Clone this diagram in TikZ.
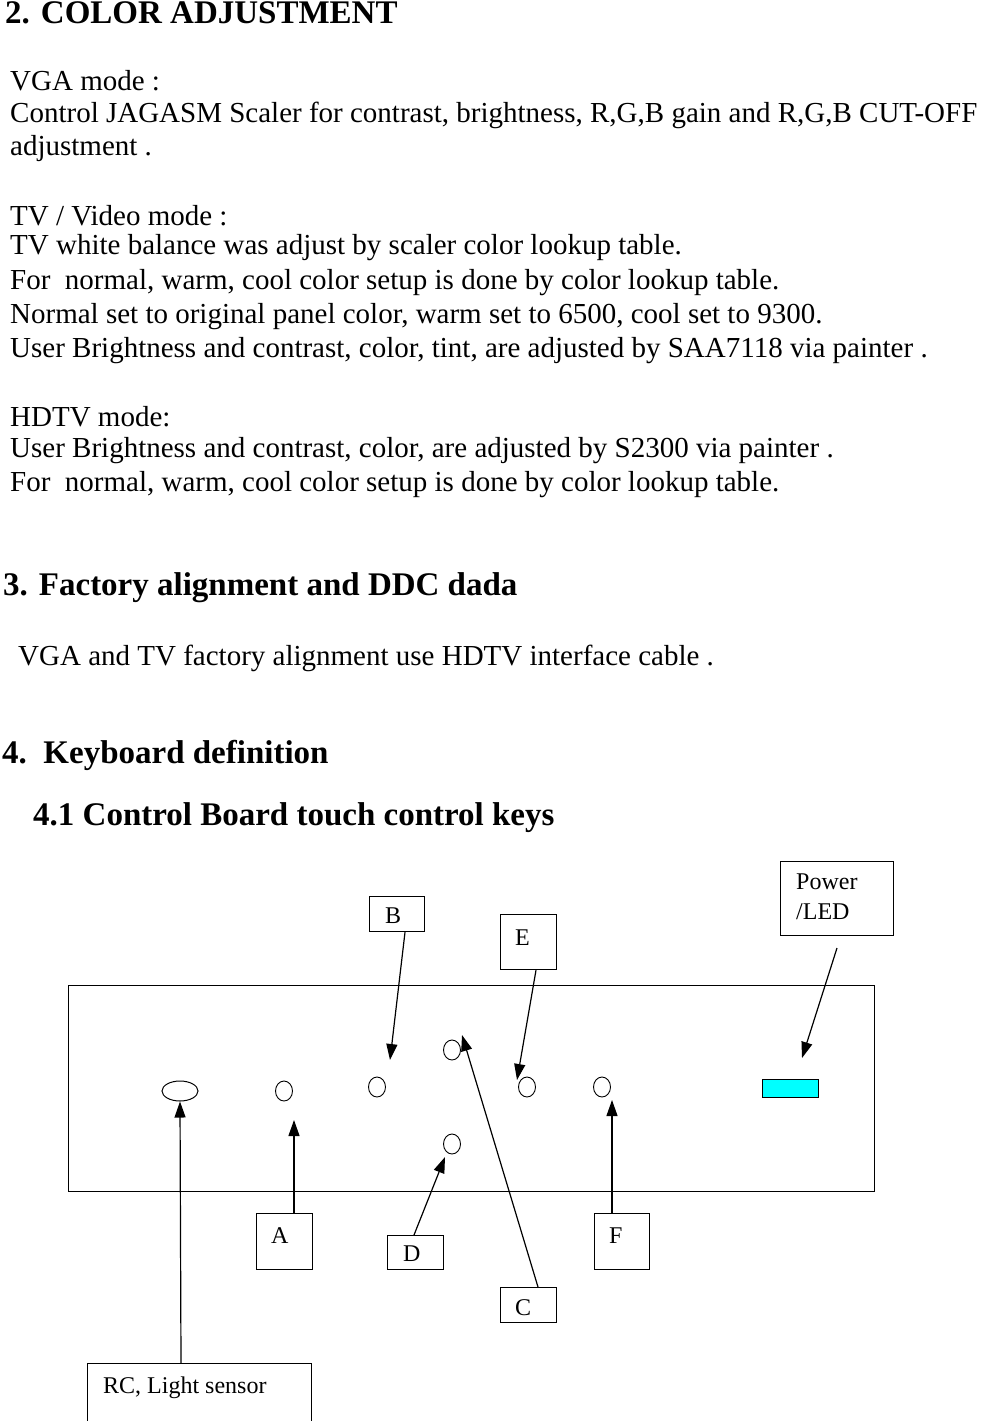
\documentclass[tikz,border=0pt]{standalone}
\usepackage{fontspec}
\setmainfont{Liberation Serif}
\usetikzlibrary{arrows.meta,shapes.geometric}
\definecolor{ledc}{RGB}{0,255,255}
\begin{document}
\begin{tikzpicture}[x=1pt,y=-1pt,
  body/.style={anchor=west,inner sep=0pt,font=\fontsize{29}{32}\selectfont},
  head/.style={anchor=west,inner sep=0pt,font=\fontsize{33}{36}\selectfont\bfseries},
  lbl/.style={draw,line width=1.2pt,anchor=north west,inner sep=0pt},
  ltx/.style={anchor=west,inner sep=0pt,font=\fontsize{24}{26}\selectfont},
  arr/.style={line width=1.2pt,-{Triangle[length=16pt,width=11pt]}},
  btn/.style={draw,line width=0.9pt,ellipse,minimum width=17pt,minimum height=20pt,inner sep=0pt}]
\useasboundingbox (0,0) rectangle (985,1421);
\node[head] (h2) at (5,13) {2. COLOR ADJUSTMENT};
\node[body] (t1) at (10,81) {VGA mode :};
\node[body] (t2) at (10,115) {Control JAGASM Scaler for contrast, brightness, R,G,B gain and R,G,B CUT-OFF};
\node[body] (t3) at (10,149) {adjustment .};
\node[body] (t4) at (10,216) {TV / Video mode :};
\node[body] (t5) at (10,248) {TV white balance was adjust by scaler color lookup table.};
\node[body] (t6) at (10,283) {For\ \ normal, warm, cool color setup is done by color lookup table.};
\node[body] (t7) at (10,317) {Normal set to original panel color, warm set to 6500, cool set to 9300.};
\node[body] (t8) at (10,351) {User Brightness and contrast, color, tint, are adjusted by SAA7118 via painter .};
\node[body] (t9) at (10,417) {HDTV mode:};
\node[body] (t10) at (10,451) {User Brightness and contrast, color, are adjusted by S2300 via painter .};
\node[body] (t11) at (10,485) {For\ \ normal, warm, cool color setup is done by color lookup table.};
\node[head] (h3) at (3,588) {3. Factory alignment and DDC dada};
\node[body] (t12) at (18,658) {VGA and TV factory alignment use HDTV interface cable .};
\node[head] (h4) at (2,755) {4.\ \ Keyboard definition};
\node[head] (h41) at (33,818) {4.1 Control Board touch control keys};
% panel
\draw[line width=1pt] (68,985) rectangle (874,1191);
\node[draw,line width=1pt,ellipse,minimum width=36pt,minimum height=20pt,inner sep=0pt] (rc) at (180,1091) {};
\node[btn] (ka) at (284,1091) {};
\node[btn] (kb) at (377,1087) {};
\node[btn] (kc) at (452,1050) {};
\node[btn] (ke) at (527,1087) {};
\node[btn] (kf) at (602,1087) {};
\node[btn] (kd) at (452,1144) {};
\node[draw,line width=1pt,fill=ledc,minimum width=56pt,minimum height=18pt,inner sep=0pt] (led) at (790,1088) {};
% label boxes
\node[lbl,minimum width=55pt,minimum height=35pt] (bB) at (369,896) {};
\node[ltx] at (385,916) {B};
\node[lbl,minimum width=56pt,minimum height=55pt] (bE) at (500,914) {};
\node[ltx] at (515,938) {E};
\node[lbl,minimum width=113pt,minimum height=74pt] (bP) at (780,861) {};
\node[ltx,align=left,font=\fontsize{24}{30}\selectfont] at (796,897) {Power\\/LED};
\node[lbl,minimum width=56pt,minimum height=56pt] (bA) at (256,1213) {};
\node[ltx] at (271,1236) {A};
\node[lbl,minimum width=56pt,minimum height=34pt] (bD) at (387,1235) {};
\node[ltx] at (403,1254) {D};
\node[lbl,minimum width=55pt,minimum height=56pt] (bF) at (594,1213) {};
\node[ltx] at (609,1236) {F};
\node[lbl,minimum width=56pt,minimum height=35pt] (bC) at (500,1287) {};
\node[ltx] at (515,1308) {C};
\node[lbl,minimum width=224pt,minimum height=58pt] (bR) at (87,1363) {};
\node[ltx] at (103,1388) {RC, Light sensor};
% arrows
\coordinate (pB) at (390,1060);
\coordinate (pE) at (517,1080);
\coordinate (pP) at (802,1058);
\coordinate (pP0) at (837,948);
\coordinate (pA) at (294,1120);
\coordinate (pD) at (445,1157);
\coordinate (pC) at (462,1035);
\coordinate (pF) at (612,1100);
\draw[arr] (bB.south -| 405,0) -- (pB);
\draw[arr] (bE.south -| 536,0) -- (pE);
\draw[arr] (pP0) -- (pP);
\draw[arr] (bR.north -| 181,0) -- (rc.south);
\draw[arr] (bA.north -| 294,0) -- (pA);
\draw[arr] (bD.north -| 414,0) -- (pD);
\draw[arr] (bC.north -| 538,0) -- (pC);
\draw[arr] (bF.north -| 612,0) -- (pF);
\end{tikzpicture}
\end{document}
